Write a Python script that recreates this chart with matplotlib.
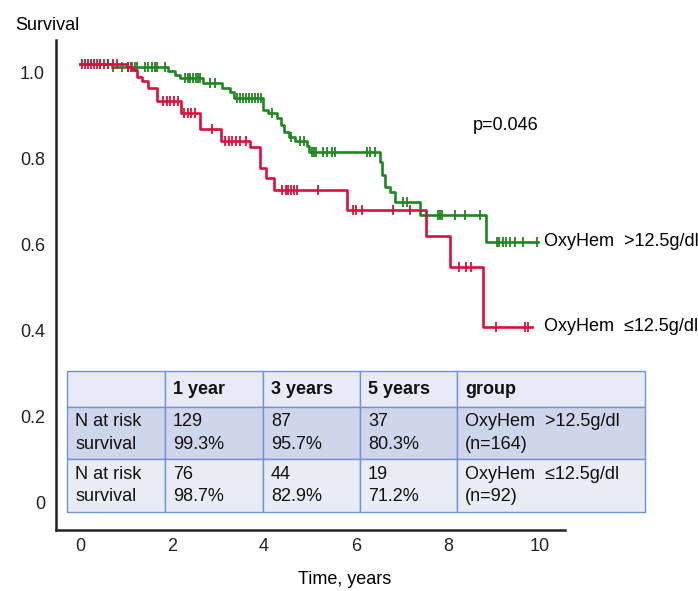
import numpy as np
import matplotlib
matplotlib.use("Agg")
import matplotlib.pyplot as plt
import matplotlib.transforms as mtransforms

plt.rcParams['font.family'] = ['Liberation Sans', 'DejaVu Sans']

# group OxyHem >12.5g/dl (green): event times (years) and survival after each event
hi_times = [0.70, 1.91, 2.07, 2.17, 2.67, 3.09, 3.26, 3.35, 3.98, 4.09, 4.28, 4.37,
            4.43, 4.54, 4.67, 4.93, 4.98, 6.52, 6.57, 6.63, 6.74, 6.85, 7.39, 8.83]
hi_surv = [0.993, 0.984, 0.974, 0.967, 0.956, 0.944, 0.933, 0.921, 0.893, 0.886, 0.874, 0.858,
           0.840, 0.830, 0.819, 0.809, 0.795, 0.770, 0.742, 0.712, 0.702, 0.679, 0.647, 0.586]
hi_end = 9.96
hi_censor = [0.43, 0.61, 0.72, 0.91, 1.04, 1.13, 1.20, 1.24, 1.41, 1.48, 1.57, 1.63, 1.67, 1.85,
             2.28, 2.35, 2.39, 2.46, 2.52, 2.57, 2.61, 2.83, 2.93, 3.41, 3.48, 3.54, 3.61, 3.67,
             3.74, 3.80, 3.87, 3.93, 4.17, 4.59, 4.78, 4.87, 5.04, 5.09, 5.13, 5.28, 5.37, 5.48,
             5.54, 6.24, 6.30, 6.41, 7.02, 7.11, 7.78, 7.83, 7.87, 8.15, 8.37, 8.70, 9.07, 9.11,
             9.20, 9.26, 9.35, 9.46, 9.63, 9.93]

# group OxyHem <=12.5g/dl (red)
lo_times = [1.02, 1.15, 1.24, 1.35, 1.48, 1.67, 2.20, 2.61, 3.07, 3.70, 3.91, 4.04, 4.22,
            5.80, 7.52, 8.04, 8.76]
lo_surv = [0.993, 0.986, 0.970, 0.960, 0.944, 0.914, 0.884, 0.847, 0.819, 0.805, 0.758, 0.735,
           0.707, 0.660, 0.598, 0.528, 0.388]
lo_end = 9.83
lo_censor = [0.04, 0.11, 0.17, 0.24, 0.30, 0.37, 0.43, 0.52, 0.61, 0.72, 0.80, 1.04, 1.11,
             1.80, 1.89, 1.96, 2.04, 2.13, 2.26, 2.35, 2.41, 2.50, 2.87, 3.15, 3.24, 3.30,
             3.39, 3.48, 3.61, 4.39, 4.48, 4.52, 4.59, 4.65, 4.72, 5.17, 5.93, 6.00, 6.13,
             6.80, 7.17, 8.24, 8.39, 8.50, 9.04, 9.67, 9.74]

hi_label = "OxyHem  >12.5g/dl"
lo_label = "OxyHem  \u226412.5g/dl"
p_text = "p=0.046"

table_header = ["", "1 year", "3 years", "5 years", "group"]
table_hi = ["N at risk\nsurvival", "129\n99.3%", "87\n95.7%", "37\n80.3%", hi_label + "\n(n=164)"]
table_lo = ["N at risk\nsurvival", "76\n98.7%", "44\n82.9%", "19\n71.2%", lo_label + "\n(n=92)"]

x_ticks = [0, 2, 4, 6, 8, 10]
y_ticks = [0, 0.2, 0.4, 0.6, 0.8, 1.0]
y_ticklabels = ["0", "0.2", "0.4", "0.6", "0.8", "1.0"]

GREEN = "#1e871e"
RED = "#dc0f3c"


def km_curve(times, surv, end):
    t = np.array([0.0] + list(times) + [end])
    s = np.array([1.0] + list(surv) + [surv[-1]])
    return t, s


def censor_y(times, surv, ct):
    idx = np.searchsorted(np.array(times), np.array(ct), side='right')
    s = np.array([1.0] + list(surv))
    return s[idx]


fig = plt.figure(figsize=(6.98, 5.91), dpi=100)
ax = fig.add_axes([56 / 698, 61 / 591, 509 / 698, 490 / 591])
ax.set_xlim(-0.522, 10.54)
ax.set_ylim(-0.085, 1.055)

for times, surv, end, cens, col in [(hi_times, hi_surv, hi_end, hi_censor, GREEN),
                                    (lo_times, lo_surv, lo_end, lo_censor, RED)]:
    t, s = km_curve(times, surv, end)
    ax.step(t, s, where='post', color=col, lw=1.9, zorder=3)
    ax.plot(cens, censor_y(times, surv, cens), '|', color=col, ms=7, mew=1.3, zorder=3)

for sp in ['top', 'right']:
    ax.spines[sp].set_visible(False)
for sp in ['left', 'bottom']:
    ax.spines[sp].set_linewidth(1.8)
    ax.spines[sp].set_color('#222222')

ax.set_xticks(x_ticks)
ax.set_yticks(y_ticks)
ax.set_yticklabels(y_ticklabels)
ax.tick_params(axis='both', length=0, labelsize=13, colors='#222222')
ax.tick_params(axis='y', pad=8)
ax.tick_params(axis='x', pad=6)
off = mtransforms.ScaledTranslation(0, -0.09, fig.dpi_scale_trans)
for lab in ax.get_yticklabels():
    lab.set_transform(lab.get_transform() + off)

ax.text(8.54, 0.857, p_text, fontsize=13, va='center', ha='left')
ax.text(10.09, hi_surv[-1], hi_label, fontsize=13, va='center', ha='left')
ax.text(10.09, lo_surv[-1], lo_label, fontsize=13, va='center', ha='left')

fig.text(15 / 698, 1 - 25 / 591, "Survival", fontsize=13, va='center', ha='left')
fig.text(345 / 698, 1 - 580 / 591, "Time, years", fontsize=13, va='center', ha='center')

# risk table
col_px = [98, 98, 97, 97, 188]
row_px = [36, 52, 53]
row_col = ["#e8ebf5", "#cfd5ea", "#e9ebf5"]
tbl = ax.table(cellText=[table_header, table_hi, table_lo],
               colWidths=[w / sum(col_px) for w in col_px],
               cellLoc='left',
               bbox=[11 / 509, 18 / 490, 578 / 509, 141 / 490])
tbl.auto_set_font_size(False)
tbl.set_fontsize(13)
for (r, c), cell in tbl.get_celld().items():
    cell.set_height(row_px[r] / sum(row_px))
    cell.set_facecolor(row_col[r])
    cell.set_edgecolor("#6f93d8")
    cell.set_linewidth(1.0)
    cell.PAD = 8 / col_px[c]
    txt = cell.get_text()
    txt.set_linespacing(1.45)
    txt.set_color('#111111')
    if r == 0:
        txt.set_fontweight('bold')

fig.savefig("out.png", dpi=100)
